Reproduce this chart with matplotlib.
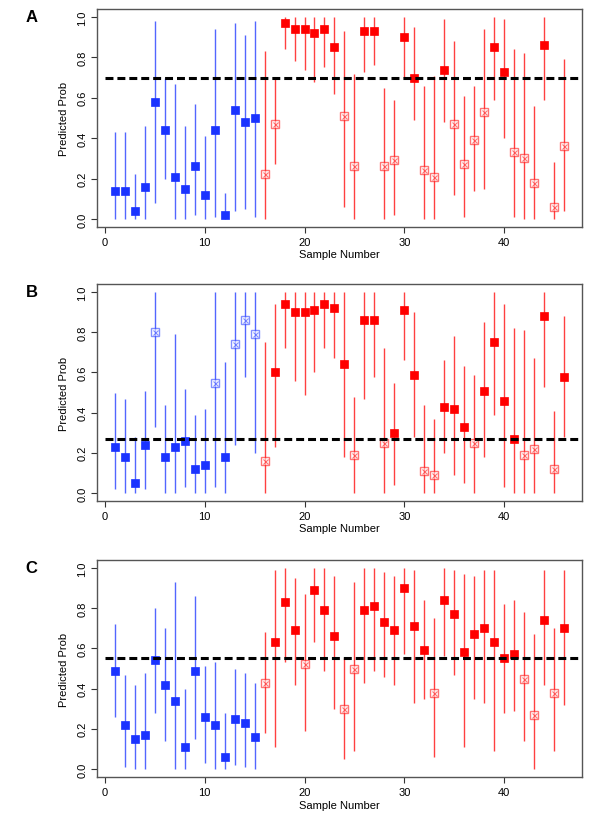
import numpy as np
import matplotlib
matplotlib.use("Agg")
import matplotlib.pyplot as plt

plt.rcParams['font.family'] = ['Liberation Sans', 'DejaVu Sans']

samples = np.arange(1, 47)
n_blue = 15  # samples 1-15 are class 1 (blue), 16-46 class 2 (red)

# panel A
prob_a = [0.14, 0.14, 0.04, 0.16, 0.58, 0.44, 0.21, 0.15, 0.26, 0.12,
          0.44, 0.02, 0.54, 0.48, 0.50, 0.22, 0.47, 0.97, 0.94, 0.94,
          0.92, 0.94, 0.85, 0.51, 0.26, 0.93, 0.93, 0.26, 0.29, 0.90,
          0.70, 0.24, 0.21, 0.74, 0.47, 0.27, 0.39, 0.53, 0.85, 0.73,
          0.33, 0.30, 0.18, 0.86, 0.06, 0.36]
lo_a = [0.00, 0.00, 0.00, 0.00, 0.08, 0.20, 0.00, 0.00, 0.02, 0.00,
        0.01, 0.00, 0.04, 0.05, 0.01, 0.00, 0.27, 0.84, 0.78, 0.74,
        0.68, 0.75, 0.62, 0.06, 0.00, 0.73, 0.76, 0.00, 0.02, 0.70,
        0.49, 0.00, 0.00, 0.48, 0.12, 0.01, 0.14, 0.15, 0.59, 0.40,
        0.01, 0.00, 0.00, 0.59, 0.00, 0.04]
hi_a = [0.43, 0.43, 0.22, 0.46, 0.98, 0.70, 0.67, 0.46, 0.57, 0.41,
        0.94, 0.13, 0.97, 0.91, 0.98, 0.83, 0.70, 1.00, 1.00, 1.00,
        1.00, 1.00, 1.00, 0.93, 0.72, 1.00, 1.00, 0.65, 0.59, 1.00,
        0.95, 0.66, 0.71, 0.99, 0.88, 0.61, 0.66, 0.94, 1.00, 0.99,
        0.84, 0.82, 0.56, 1.00, 0.28, 0.79]
wrong_a = [16, 17, 24, 25, 28, 29, 32, 33, 35, 36, 37, 38, 41, 42, 43, 45, 46]
cut_a = 0.696

# panel B
prob_b = [0.23, 0.18, 0.05, 0.24, 0.80, 0.18, 0.23, 0.26, 0.12, 0.14,
          0.55, 0.18, 0.74, 0.86, 0.79, 0.16, 0.60, 0.94, 0.90, 0.90,
          0.91, 0.94, 0.92, 0.64, 0.19, 0.86, 0.86, 0.25, 0.30, 0.91,
          0.59, 0.11, 0.09, 0.43, 0.42, 0.33, 0.25, 0.51, 0.75, 0.46,
          0.27, 0.19, 0.22, 0.88, 0.12, 0.58]
lo_b = [0.02, 0.00, 0.00, 0.02, 0.33, 0.00, 0.00, 0.03, 0.00, 0.00,
        0.03, 0.00, 0.24, 0.58, 0.20, 0.00, 0.23, 0.72, 0.56, 0.49,
        0.60, 0.72, 0.67, 0.18, 0.00, 0.47, 0.58, 0.00, 0.04, 0.66,
        0.28, 0.00, 0.00, 0.20, 0.09, 0.05, 0.00, 0.18, 0.39, 0.03,
        0.00, 0.00, 0.00, 0.53, 0.00, 0.28]
hi_b = [0.50, 0.47, 0.28, 0.51, 1.00, 0.44, 0.79, 0.52, 0.39, 0.42,
        1.00, 0.65, 1.00, 1.00, 1.00, 0.75, 0.94, 1.00, 1.00, 1.00,
        1.00, 1.00, 1.00, 1.00, 0.48, 1.00, 1.00, 0.72, 0.55, 1.00,
        0.90, 0.44, 0.37, 0.66, 0.78, 0.63, 0.59, 0.85, 1.00, 0.94,
        0.82, 0.81, 0.67, 1.00, 0.41, 0.88]
wrong_b = [5, 11, 13, 14, 15, 16, 25, 28, 32, 33, 37, 42, 43, 45]
cut_b = 0.27

# panel C
prob_c = [0.49, 0.22, 0.15, 0.17, 0.54, 0.42, 0.34, 0.11, 0.49, 0.26,
          0.22, 0.06, 0.25, 0.23, 0.16, 0.43, 0.63, 0.83, 0.69, 0.52,
          0.89, 0.79, 0.66, 0.30, 0.50, 0.79, 0.81, 0.73, 0.69, 0.90,
          0.71, 0.59, 0.38, 0.84, 0.77, 0.58, 0.67, 0.70, 0.63, 0.55,
          0.57, 0.45, 0.27, 0.74, 0.38, 0.70]
lo_c = [0.26, 0.01, 0.00, 0.00, 0.28, 0.14, 0.00, 0.00, 0.15, 0.03,
        0.00, 0.00, 0.02, 0.01, 0.00, 0.18, 0.11, 0.53, 0.42, 0.19,
        0.63, 0.49, 0.30, 0.05, 0.09, 0.43, 0.49, 0.46, 0.42, 0.57,
        0.33, 0.35, 0.06, 0.56, 0.47, 0.11, 0.35, 0.33, 0.09, 0.28,
        0.29, 0.14, 0.00, 0.42, 0.09, 0.32]
hi_c = [0.72, 0.47, 0.42, 0.48, 0.80, 0.70, 0.93, 0.40, 0.86, 0.51,
        0.53, 0.28, 0.50, 0.48, 0.43, 0.68, 0.99, 1.00, 0.95, 0.87,
        1.00, 1.00, 0.96, 0.55, 0.93, 1.00, 1.00, 0.98, 0.96, 1.00,
        0.99, 0.84, 0.75, 1.00, 0.99, 0.97, 0.96, 0.99, 0.99, 0.82,
        0.84, 0.78, 0.67, 0.99, 0.70, 0.99]
wrong_c = [16, 20, 24, 25, 33, 42, 43, 45]
cut_c = 0.553

BLUE = '#1a33ff'
RED = '#ff0000'


def draw_panel(ax, prob, lo, hi, wrong, cut, letter):
    prob = np.array(prob)
    lo = np.array(lo)
    hi = np.array(hi)
    is_wrong = np.isin(samples, wrong)
    cols = np.where(samples <= n_blue, BLUE, RED)

    for x, l, h, c in zip(samples, lo, hi, cols):
        ax.plot([x, x], [l, h], color=c, lw=1.0, alpha=0.75,
                solid_capstyle='butt', zorder=2)

    for x, p, c, w in zip(samples, prob, cols, is_wrong):
        if w:
            ax.plot(x, p, marker='s', ms=5.5, mfc='white', mec=c, mew=1.0,
                    alpha=0.55, ls='none', zorder=3)
            ax.plot(x, p, marker='x', ms=3.6, mec=c, mew=0.8,
                    alpha=0.55, ls='none', zorder=4)
        else:
            ax.plot(x, p, marker='s', ms=5.8, mfc=c, mec=c, mew=0.5,
                    ls='none', zorder=3)

    ax.plot([0, 48], [cut, cut], color='black', lw=2.2, dashes=(2.6, 1.3),
            zorder=5)

    ax.set_xlim(-0.8, 47.8)
    ax.set_ylim(-0.04, 1.04)
    ax.set_xticks([0, 10, 20, 30, 40])
    ax.set_yticks([0.0, 0.2, 0.4, 0.6, 0.8, 1.0])
    ax.set_yticklabels(['0.0', '0.2', '0.4', '0.6', '0.8', '1.0'],
                       rotation=90, va='center')
    ax.tick_params(labelsize=8, length=4, width=0.8, color='#333333', pad=3)
    for s in ax.spines.values():
        s.set_color('#555555')
        s.set_linewidth(1.0)
    ax.set_xlabel('Sample Number', fontsize=8, labelpad=2)
    ax.set_ylabel('Predicted Prob', fontsize=8, labelpad=6)
    ax.text(-0.135, 1.0, letter, transform=ax.transAxes, fontsize=12,
            fontweight='bold', ha='center', va='top')


fig = plt.figure(figsize=(6, 8.29), dpi=100)
ax_a = fig.add_axes([0.1617, 0.725, 0.808, 0.263])
ax_b = fig.add_axes([0.1617, 0.3945, 0.808, 0.2615])
ax_c = fig.add_axes([0.1617, 0.0615, 0.808, 0.2618])

draw_panel(ax_a, prob_a, lo_a, hi_a, wrong_a, cut_a, 'A')
draw_panel(ax_b, prob_b, lo_b, hi_b, wrong_b, cut_b, 'B')
draw_panel(ax_c, prob_c, lo_c, hi_c, wrong_c, cut_c, 'C')

fig.savefig('out.png', dpi=100)
